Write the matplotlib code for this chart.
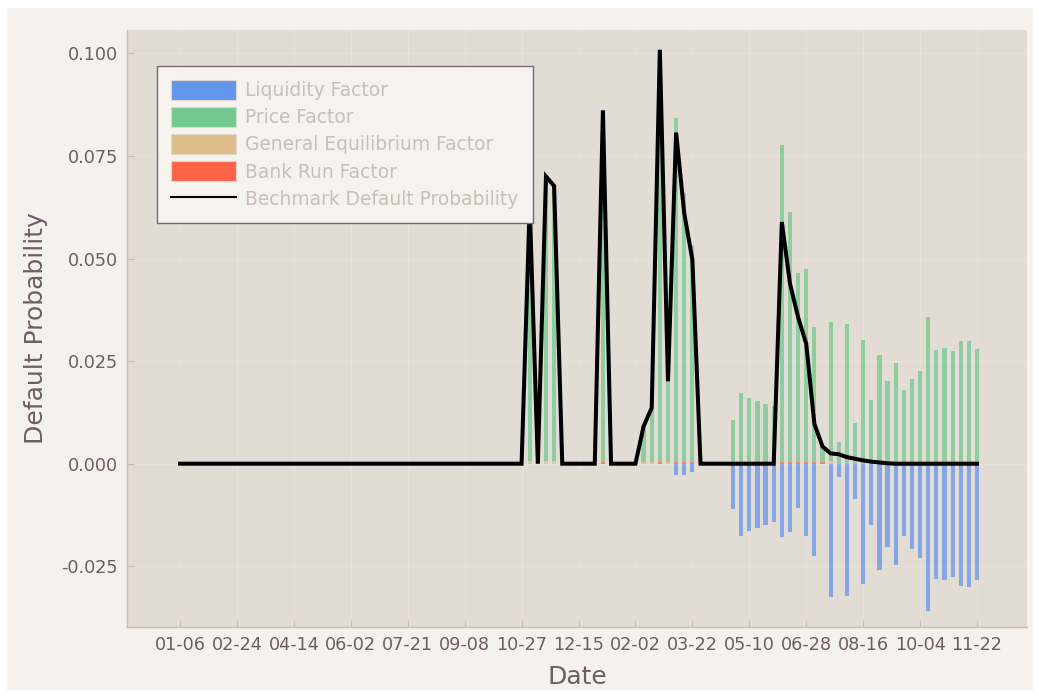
import numpy as np
import pandas as pd
import matplotlib
matplotlib.use('Agg')
import matplotlib.pyplot as plt
from matplotlib.patches import Patch, Rectangle
from matplotlib.lines import Line2D

# weekly observations, 2007-01-06 .. 2008-11-22 (99 weeks)
start_date = '2007-01-06'
n_weeks = 99

# default probability decomposition, one value per week
liquidity = [
    0, 0, 0, 0, 0, 0, 0, 0, 0, 0,
    0, 0, 0, 0, 0, 0, 0, 0, 0, 0,
    0, 0, 0, 0, 0, 0, 0, 0, 0, 0,
    0, 0, 0, 0, 0, 0, 0, 0, 0, 0,
    0, 0, 0, 0, 0, 0, 0, 0, 0, 0,
    0, 0, 0.0006, 0, 0, 0, 0, 0, 0, 0,
    0, -0.0027, -0.0028, -0.0021, 0, 0, 0, 0, -0.0110, -0.0175,
    -0.0163, -0.0156, -0.0149, -0.0141, -0.0179, -0.0167, -0.0107, -0.0177, -0.0225, 0,
    -0.0324, -0.0032, -0.0323, -0.0087, -0.0292, -0.0149, -0.0260, -0.0202, -0.0248, -0.0177,
    -0.0209, -0.0230, -0.0360, -0.0280, -0.0284, -0.0276, -0.0299, -0.0301, -0.0283,
]
price = [
    0, 0, 0, 0, 0, 0, 0, 0, 0, 0,
    0, 0, 0, 0, 0, 0, 0, 0, 0, 0,
    0, 0, 0, 0, 0, 0, 0, 0, 0, 0,
    0, 0, 0, 0, 0, 0, 0, 0, 0, 0,
    0, 0, 0, 0.0624, 0, 0.0694, 0.0671, 0, 0, 0,
    0, 0, 0.0851, 0, 0, 0, 0, 0.0086, 0.0131, 0.1004,
    0.0196, 0.0838, 0.0655, 0.0528, 0, 0, 0, 0, 0.0107, 0.0172,
    0.0161, 0.0154, 0.0146, 0.0140, 0.0771, 0.0608, 0.0460, 0.0470, 0.0328, 0.0037,
    0.0339, 0.0053, 0.0341, 0.0099, 0.0302, 0.0156, 0.0264, 0.0202, 0.0245, 0.0180,
    0.0207, 0.0227, 0.0357, 0.0276, 0.0282, 0.0274, 0.0298, 0.0298, 0.0280,
]
general_eq = [
    0, 0, 0, 0, 0, 0, 0, 0, 0, 0,
    0, 0, 0, 0, 0, 0, 0, 0, 0, 0,
    0, 0, 0, 0, 0, 0, 0, 0, 0, 0,
    0, 0, 0, 0, 0, 0, 0, 0, 0, 0,
    0, 0, 0, 0.0006, 0, 0.0006, 0.0006, 0, 0, 0,
    0, 0, 0, 0, 0, 0, 0, 0.0005, 0.0005, 0,
    0.0005, 0, 0, 0, 0, 0, 0, 0, 0, 0,
    0, 0, 0, 0, 0, 0, 0, 0, 0, 0,
    0.0006, 0, 0, 0, 0, 0, 0, 0, 0, 0,
    0, 0, 0, 0, 0, 0, 0, 0, 0,
]
bank_run = [
    0, 0, 0, 0, 0, 0, 0, 0, 0, 0,
    0, 0, 0, 0, 0, 0, 0, 0, 0, 0,
    0, 0, 0, 0, 0, 0, 0, 0, 0, 0,
    0, 0, 0, 0, 0, 0, 0, 0, 0, 0,
    0, 0, 0, 0, 0, 0, 0, 0, 0, 0,
    0, 0, 0.0004, 0, 0, 0, 0, 0, 0, 0.0005,
    0, 0.0005, 0.0005, 0.0005, 0, 0, 0, 0, 0, 0,
    0, 0, 0, 0, 0.0005, 0.0005, 0.0005, 0.0005, 0.0005, 0.0005,
    0, 0, 0, 0, 0, 0, 0, 0, 0, 0,
    0, 0, 0, 0, 0, 0, 0, 0, 0,
]
benchmark = [
    0, 0, 0, 0, 0, 0, 0, 0, 0, 0,
    0, 0, 0, 0, 0, 0, 0, 0, 0, 0,
    0, 0, 0, 0, 0, 0, 0, 0, 0, 0,
    0, 0, 0, 0, 0, 0, 0, 0, 0, 0,
    0, 0, 0, 0.0630, 0, 0.0700, 0.0677, 0, 0, 0,
    0, 0, 0.0861, 0, 0, 0, 0, 0.0091, 0.0136, 0.1009,
    0.0201, 0.0807, 0.0610, 0.0497, 0, 0, 0, 0, 0, 0,
    0, 0, 0, 0, 0.0589, 0.0439, 0.0357, 0.0292, 0.0097, 0.0042,
    0.0025, 0.0023, 0.0016, 0.0012, 0.0008, 0.0005, 0.0003, 0.0001, 0, 0,
    0, 0, 0, 0, 0, 0, 0, 0, 0,
]

dates = pd.date_range(start_date, periods=n_weeks, freq='7D')
tick_dates = dates[::7]

c_liq = '#6495ed'
c_price = '#72c98f'
c_ge = '#dfbd8a'
c_run = '#fc6447'
fig_bg = '#f5f2ee'
ax_bg = '#e2dcd5'
txt_col = '#6f5d66'
spine_col = '#c9bcaa'
leg_txt = '#c9bfb5'

fig = plt.figure(figsize=(10.39, 6.98), dpi=100, facecolor='white')
fig.patches.append(Rectangle((7 / 1039, 8 / 698), 1026 / 1039, 682 / 698,
                             transform=fig.transFigure, facecolor=fig_bg,
                             edgecolor='none', zorder=-10))
ax = fig.add_axes([127 / 1039, 71 / 698, 900 / 1039, 597 / 698])
ax.set_facecolor(ax_bg)

liq = np.array(liquidity)
pr = np.array(price)
ge = np.array(general_eq)
br = np.array(bank_run)

# stack positives: bank run, general eq, price, then positive liquidity on top
liq_pos = np.clip(liq, 0, None)
liq_neg = np.clip(liq, None, 0)
bw = 3.6
bar_kw = dict(width=bw, alpha=0.75, linewidth=0, zorder=2)
ax.bar(dates, br, color=c_run, **bar_kw)
ax.bar(dates, ge, bottom=br, color=c_ge, **bar_kw)
ax.bar(dates, pr, bottom=br + ge, color=c_price, **bar_kw)
ax.bar(dates, liq_pos, bottom=br + ge + pr, color=c_liq, **bar_kw)
ax.bar(dates, liq_neg, color=c_liq, **bar_kw)

ax.plot(dates, benchmark, color='black', lw=2.9, zorder=3, solid_joinstyle='miter')

ax.set_xlim(dates[0] - pd.Timedelta(days=45.6), dates[0] + pd.Timedelta(days=729))
ax.set_ylim(-0.0398, 0.1057)
ax.set_xticks(tick_dates)
ax.set_xticklabels([d.strftime('%m-%d') for d in tick_dates])
ax.set_yticks([-0.025, 0.0, 0.025, 0.05, 0.075, 0.1])
ax.set_yticklabels(['-0.025', '0.000', '0.025', '0.050', '0.075', '0.100'])

ax.grid(True, color='#e9e2d9', lw=0.8, zorder=0)
ax.set_axisbelow(True)
for s in ['top', 'right']:
    ax.spines[s].set_visible(False)
for s in ['left', 'bottom']:
    ax.spines[s].set_color(spine_col)
    ax.spines[s].set_linewidth(1.0)
ax.tick_params(direction='in', length=5, color=spine_col, labelcolor=txt_col,
               labelsize=12.7, pad=6.5)

ax.set_xlabel('Date', fontsize=18, color=txt_col, labelpad=8)
ax.set_ylabel('Default Probability', fontsize=18, color=txt_col, labelpad=10)

handles = [
    Patch(facecolor=c_liq, edgecolor='#e0d6cc', lw=0.8),
    Patch(facecolor=c_price, edgecolor='#e0d6cc', lw=0.8),
    Patch(facecolor=c_ge, edgecolor='#e0d6cc', lw=0.8),
    Patch(facecolor=c_run, edgecolor='#e0d6cc', lw=0.8),
    Line2D([], [], color='black', lw=1.5),
]
labels = ['Liquidity Factor', 'Price Factor', 'General Equilibrium Factor',
          'Bank Run Factor', 'Bechmark Default Probability']
leg = ax.legend(handles, labels, loc='upper left',
                bbox_to_anchor=((157 - 127) / 900, (627 - 66) / 597),
                borderaxespad=0, fontsize=13.4, frameon=True, fancybox=False,
                framealpha=1, facecolor='#f6f3ef', edgecolor='#7a6870',
                handlelength=3.5, handleheight=1.25, labelspacing=0.38,
                handletextpad=0.5, borderpad=0.75, labelcolor=leg_txt)
leg.get_frame().set_linewidth(1.0)
leg.set_zorder(5)

fig.savefig('out.png', dpi=100, facecolor=fig.get_facecolor())
